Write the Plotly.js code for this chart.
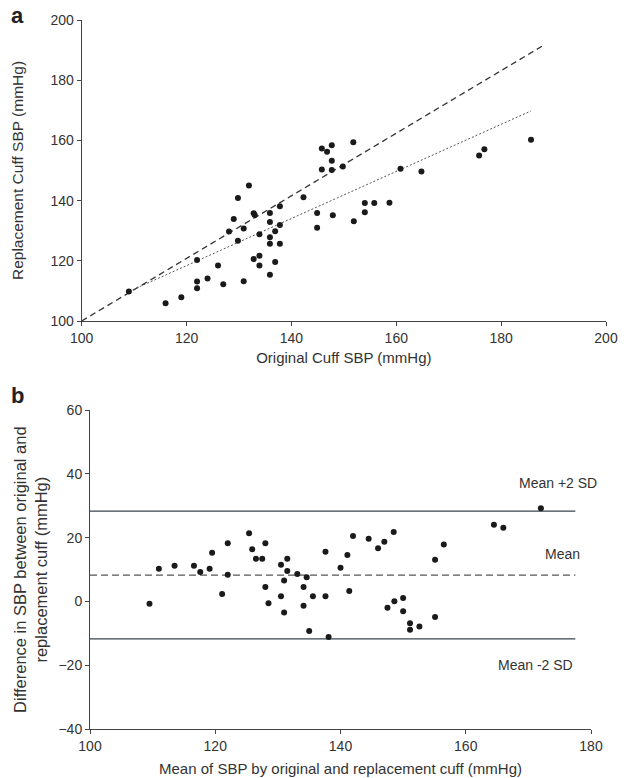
<!DOCTYPE html>
<html>
<head>
<meta charset="utf-8">
<script src="https://cdn.plot.ly/plotly-3.0.1.min.js"></script>
<style>
  html, body { margin: 0; padding: 0; background: #ffffff; }
  #chart { width: 629px; height: 778px; }
</style>
</head>
<body>
<div id="chart"></div>
<script>
// ---------- Panel a: original vs replacement cuff SBP ----------
const origSBP = [109.0, 116.0, 119.0, 122.0, 122.0, 122.0, 124.0, 126.0, 127.0, 128.1,
  129.0, 129.8, 129.8, 130.9, 130.9, 131.9, 132.8, 133.0, 132.8, 133.9,
  133.9, 133.9, 135.9, 135.9, 135.9, 135.9, 135.9, 136.9, 136.9, 137.8,
  137.8, 137.8, 142.3, 144.9, 144.9, 145.8, 146.8, 147.7, 147.7, 145.8,
  147.7, 147.9, 149.8, 151.8, 151.9, 154.0, 154.0, 155.8, 158.7, 160.8,
  164.8, 175.8, 176.8, 185.7];
const replSBP = [109.8, 105.9, 107.9, 110.9, 113.1, 120.3, 114.1, 118.4, 112.2, 129.7,
  133.9, 140.9, 126.7, 130.7, 113.2, 145.0, 135.8, 135.2, 120.6, 121.7,
  118.4, 128.8, 135.9, 132.9, 127.8, 125.7, 115.4, 129.8, 119.6, 138.1,
  131.9, 125.7, 141.1, 135.9, 131.0, 157.3, 156.2, 158.4, 153.2, 150.3,
  150.2, 135.1, 151.3, 159.4, 133.1, 139.2, 136.1, 139.2, 139.3, 150.6,
  149.7, 155.0, 157.1, 160.2];
// line of identity and regression line (end points)
const identityX = [100, 188];
const identityY = [100, 191.5];
const regressionX = [109.0, 185.7];
const regressionY = [109.8, 169.8];

// ---------- Panel b: Bland-Altman ----------
const meanSBP = [109.5, 111.0, 113.5, 116.6, 117.6, 119.1, 119.5, 121.1, 122.0, 122.0,
  125.4, 125.9, 126.5, 127.5, 128.0, 128.0, 128.5, 130.5, 130.5, 131.0,
  131.0, 131.5, 131.5, 133.1, 134.1, 134.1, 134.6, 135.0, 135.6, 137.6,
  137.6, 138.1, 140.0, 141.1, 141.4, 142.0, 144.5, 146.0, 147.0, 148.5,
  147.5, 148.6, 150.0, 150.0, 151.1, 151.1, 152.6, 155.1, 156.5, 155.1,
  164.5, 166.0, 172.0];
const diffSBP = [-0.7, 10.3, 11.2, 11.2, 9.3, 10.3, 15.3, 2.4, 18.3, 8.4,
  21.4, 16.4, 13.4, 13.4, 18.3, 4.6, -0.5, 11.5, 1.7, 6.6,
  -3.4, 13.4, 9.6, 8.6, 4.6, -1.3, 7.6, -9.2, 1.7, 15.6,
  1.7, -11.1, 10.6, 14.6, 3.3, 20.5, 19.7, 16.7, 18.7, 21.8,
  -1.9, 0.1, 1.1, -3.0, -6.8, -8.8, -7.8, 13.1, 17.9, -4.8,
  24.1, 23.1, 29.2];
const limitX = [100, 177.5];
const meanDiff = [8.3, 8.3];
const upperLimit = [28.3, 28.3];
const lowerLimit = [-11.7, -11.7];
const limitLabels = ['Mean +2 SD', 'Mean', 'Mean -2 SD'];

const ticksA = [100, 120, 140, 160, 180, 200];
const ticksBx = [100, 120, 140, 160, 180];
const ticksBy = [-40, -20, 0, 20, 40, 60];

const FONT = 'Liberation Sans, Arial, Helvetica, sans-serif';
const TXT = '#333333';
const AX = '#444444';

const traces = [
  { x: identityX, y: identityY, xaxis: 'x', yaxis: 'y', mode: 'lines',
    line: { color: '#333', width: 1.3, dash: '6px,4px' }, hoverinfo: 'skip', showlegend: false },
  { x: regressionX, y: regressionY, xaxis: 'x', yaxis: 'y', mode: 'lines',
    line: { color: '#555', width: 1, dash: '2px,2px' }, hoverinfo: 'skip', showlegend: false },
  { x: origSBP, y: replSBP, xaxis: 'x', yaxis: 'y', mode: 'markers', type: 'scatter',
    marker: { color: '#1a1a1a', size: 6 }, showlegend: false },

  { x: limitX, y: upperLimit, xaxis: 'x2', yaxis: 'y2', mode: 'lines',
    line: { color: '#3a4250', width: 1.3 }, hoverinfo: 'skip', showlegend: false },
  { x: limitX, y: meanDiff, xaxis: 'x2', yaxis: 'y2', mode: 'lines',
    line: { color: '#555', width: 1.2, dash: '7px,4px' }, hoverinfo: 'skip', showlegend: false },
  { x: limitX, y: lowerLimit, xaxis: 'x2', yaxis: 'y2', mode: 'lines',
    line: { color: '#3a4250', width: 1.3 }, hoverinfo: 'skip', showlegend: false },
  { x: meanSBP, y: diffSBP, xaxis: 'x2', yaxis: 'y2', mode: 'markers', type: 'scatter',
    marker: { color: '#1a1a1a', size: 6 }, showlegend: false }
];

function axisBase(extra) {
  return Object.assign({
    showgrid: false, zeroline: false, showline: true, linecolor: AX, linewidth: 1,
    ticks: 'outside', ticklen: 4, tickcolor: AX, tickwidth: 1,
    tickfont: { family: FONT, size: 14, color: TXT }, fixedrange: true
  }, extra);
}

const layout = {
  width: 629, height: 778,
  margin: { l: 0, r: 0, t: 0, b: 0 },
  paper_bgcolor: '#ffffff', plot_bgcolor: '#ffffff',
  font: { family: FONT, color: TXT, size: 14 },
  showlegend: false,
  xaxis: axisBase({ domain: [81.7/629, 606/629], range: [100, 200], tickvals: ticksA, anchor: 'y',
    title: { text: 'Original Cuff SBP (mmHg)', font: { family: FONT, size: 15, color: TXT }, standoff: 7 } }),
  yaxis: axisBase({ domain: [1 - 321/778, 1 - 20/778], range: [100, 200], tickvals: ticksA, anchor: 'x',
    title: { text: 'Replacement Cuff SBP (mmHg)', font: { family: FONT, size: 15.5, color: TXT }, standoff: 23 } }),
  xaxis2: axisBase({ domain: [90/629, 591/629], range: [100, 180], tickvals: ticksBx, anchor: 'y2',
    title: { text: 'Mean of SBP by original and replacement cuff (mmHg)', font: { family: FONT, size: 15, color: TXT }, standoff: 10 } }),
  yaxis2: axisBase({ domain: [1 - 729.3/778, 1 - 410/778], range: [-40, 60], tickvals: ticksBy, anchor: 'x2',
    title: { text: 'Difference in SBP between original and<br>replacement cuff (mmHg)', font: { family: FONT, size: 16.5, color: TXT }, standoff: 6 } }),
  annotations: [
    { text: '<b>a</b>', xref: 'paper', yref: 'paper', x: 17/629, y: 1 - 15/778, showarrow: false,
      font: { family: FONT, size: 22, color: '#222' }, xanchor: 'center', yanchor: 'middle' },
    { text: '<b>b</b>', xref: 'paper', yref: 'paper', x: 17/629, y: 1 - 395/778, showarrow: false,
      font: { family: FONT, size: 22, color: '#222' }, xanchor: 'center', yanchor: 'middle' },
    { text: limitLabels[0], xref: 'x2', yref: 'y2', x: 174.8, y: 37.1, showarrow: false,
      font: { family: FONT, size: 14, color: TXT }, xanchor: 'center', yanchor: 'middle' },
    { text: limitLabels[1], xref: 'x2', yref: 'y2', x: 175.4, y: 14.9, showarrow: false,
      font: { family: FONT, size: 14, color: TXT }, xanchor: 'center', yanchor: 'middle' },
    { text: limitLabels[2], xref: 'x2', yref: 'y2', x: 171.1, y: -19.9, showarrow: false,
      font: { family: FONT, size: 14, color: TXT }, xanchor: 'center', yanchor: 'middle' }
  ]
};

Plotly.newPlot('chart', traces, layout, { staticPlot: true, displayModeBar: false });
</script>
</body>
</html>
